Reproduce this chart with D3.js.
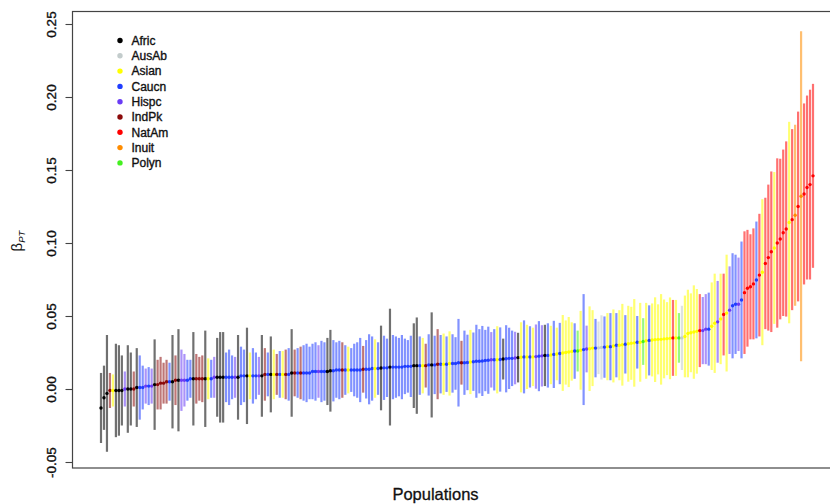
<!DOCTYPE html>
<html><head><meta charset="utf-8">
<script src="https://cdn.jsdelivr.net/npm/d3@7"></script>
<style>
html,body{margin:0;padding:0;background:#fff;}
svg{display:block;font-family:"Liberation Sans",Arial,Helvetica,sans-serif;}
</style></head>
<body>
<svg id="chart" width="830" height="504"></svg>
<script>
// Legend categories and colours
const categories = ["Afric","AusAb","Asian","Caucn","Hispc","IndPk","NatAm","Inuit","Polyn"];
const categoryCodes = ["A","U","S","C","H","I","N","T","P"];
const categoryColors = ["#000000","#c3cccc","#ffff00","#1f3dff","#6a3cf5","#8b0a0a","#ff0000","#ff8c00","#44f020"];
const yTicks = [-0.05, 0.00, 0.05, 0.10, 0.15, 0.20, 0.25];

// Population group (code), estimated beta_PT and half-width of its interval
const group = [
"A","A","A","I","S","A","A","A","H","A",
"A","I","A","C","C","H","C","H","A","I",
"I","I","I","C","A","I","A","H","H","C",
"C","A","I","I","I","A","S","C","H","A",
"A","A","C","C","C","H","A","C","C","A",
"S","C","C","H","A","I","C","A","S","I",
"C","S","I","C","A","I","C","I","C","C",
"C","C","C","H","C","C","A","A","C","C",
"C","I","C","S","C","C","C","C","I","C",
"C","C","S","C","A","C","C","A","C","C",
"C","C","C","C","C","A","A","C","S","I",
"C","A","C","I","C","S","C","S","C","C",
"C","I","C","C","S","C","C","C","C","C",
"C","H","C","S","C","A","C","C","C","H",
"A","S","C","S","C","S","H","C","H","A",
"C","S","C","S","C","S","S","S","S","C",
"P","S","C","H","S","S","C","U","U","C",
"S","C","S","C","S","S","C","S","S","S",
"C","S","P","S","C","S","S","S","S","S",
"S","S","N","S","P","U","S","S","S","S",
"S","N","H","H","C","S","S","H","S","N",
"S","H","C","C","H","C","N","N","N","N",
"C","N","S","N","N","N","S","N","N","N",
"N","S","N","T","N","T","N","N","N","N"];

const beta = [
-0.013,-0.006,-0.003,-0.001,-0.001,-0.001,-0.001,-0.001,0.000,0.000,
0.000,0.000,0.001,0.001,0.001,0.002,0.002,0.002,0.003,0.003,
0.004,0.004,0.005,0.005,0.005,0.006,0.006,0.006,0.006,0.006,
0.007,0.007,0.007,0.007,0.007,0.007,0.007,0.007,0.008,0.008,
0.008,0.008,0.008,0.008,0.008,0.008,0.008,0.009,0.009,0.009,
0.009,0.009,0.009,0.009,0.009,0.010,0.010,0.010,0.010,0.010,
0.010,0.010,0.010,0.010,0.011,0.011,0.011,0.011,0.011,0.011,
0.011,0.012,0.012,0.012,0.012,0.012,0.012,0.0125,0.0125,0.013,
0.013,0.013,0.013,0.013,0.013,0.013,0.013,0.013,0.0135,0.0135,
0.0135,0.014,0.014,0.014,0.0144,0.0145,0.0145,0.015,0.015,0.015,
0.015,0.015,0.0155,0.0155,0.0155,0.016,0.016,0.016,0.016,0.016,
0.0165,0.0165,0.0165,0.017,0.017,0.017,0.017,0.0175,0.0175,0.0175,
0.018,0.018,0.018,0.0182,0.0185,0.0187,0.019,0.019,0.0192,0.0195,
0.0197,0.020,0.020,0.020,0.0202,0.0205,0.0207,0.021,0.021,0.0212,
0.0215,0.0217,0.022,0.022,0.022,0.022,0.0222,0.0225,0.0227,0.023,
0.023,0.0233,0.0237,0.024,0.0243,0.0247,0.025,0.0253,0.0257,0.026,
0.026,0.0265,0.027,0.0274,0.0276,0.028,0.028,0.0282,0.0285,0.0287,
0.029,0.029,0.0295,0.030,0.030,0.0303,0.0306,0.031,0.0313,0.0316,
0.032,0.032,0.0325,0.033,0.0333,0.0336,0.0338,0.034,0.034,0.0343,
0.0345,0.0347,0.035,0.035,0.035,0.035,0.036,0.038,0.0385,0.039,
0.0395,0.040,0.040,0.041,0.041,0.043,0.045,0.046,0.048,0.051,
0.052,0.054,0.057,0.058,0.058,0.061,0.066,0.069,0.070,0.072,
0.0747,0.078,0.080,0.086,0.090,0.094,0.0966,0.100,0.1027,0.107,
0.1096,0.114,0.116,0.119,0.125,0.132,0.1336,0.138,0.140,0.146];

const err = [
0.024,0.022,0.040,0.012,0.011,0.032,0.031,0.024,0.012,0.030,
0.025,0.012,0.027,0.022,0.015,0.012,0.013,0.012,0.031,0.017,
0.018,0.014,0.015,0.013,0.032,0.017,0.035,0.021,0.018,0.014,
0.013,0.032,0.017,0.015,0.016,0.033,0.014,0.013,0.014,0.027,
0.031,0.031,0.017,0.019,0.015,0.014,0.029,0.020,0.018,0.033,
0.016,0.019,0.016,0.013,0.028,0.018,0.015,0.026,0.017,0.014,
0.016,0.016,0.017,0.018,0.030,0.016,0.017,0.018,0.019,0.020,
0.018,0.019,0.020,0.018,0.021,0.020,0.023,0.028,0.021,0.019,
0.020,0.019,0.017,0.016,0.015,0.018,0.019,0.022,0.016,0.020,
0.024,0.022,0.020,0.018,0.029,0.022,0.020,0.040,0.022,0.021,
0.020,0.022,0.019,0.018,0.021,0.029,0.033,0.020,0.019,0.015,
0.021,0.036,0.020,0.024,0.020,0.021,0.019,0.022,0.020,0.018,
0.030,0.015,0.022,0.019,0.022,0.020,0.025,0.022,0.024,0.021,
0.023,0.019,0.021,0.023,0.022,0.014,0.023,0.021,0.019,0.018,
0.017,0.024,0.025,0.022,0.021,0.020,0.022,0.024,0.021,0.021,
0.022,0.020,0.023,0.018,0.021,0.026,0.022,0.024,0.020,0.019,
0.014,0.027,0.038,0.016,0.029,0.026,0.020,0.018,0.022,0.021,
0.023,0.023,0.025,0.022,0.024,0.028,0.020,0.026,0.025,0.030,
0.018,0.027,0.016,0.026,0.024,0.025,0.029,0.024,0.031,0.027,
0.025,0.028,0.026,0.026,0.017,0.022,0.028,0.030,0.027,0.032,
0.029,0.025,0.023,0.024,0.025,0.030,0.034,0.028,0.031,0.028,
0.040,0.030,0.036,0.034,0.032,0.040,0.042,0.040,0.036,0.038,
0.040,0.042,0.050,0.045,0.050,0.055,0.052,0.058,0.055,0.057,
0.060,0.069,0.062,0.062,0.065,0.113,0.062,0.063,0.065,0.063];

const color = d3.scaleOrdinal().domain(categoryCodes).range(categoryColors);
const data = beta.map((b, i) => ({i, g: group[i], b, e: err[i]}));

const svg = d3.select("#chart");
const x = d3.scalePoint().domain(d3.range(beta.length)).range([101, 813]);
const y = d3.scaleLinear().domain([-0.05, 0.25]).range([462, 24]);

// error bars
svg.append("g").selectAll("line").data(data).join("line")
  .attr("x1", d => x(d.i)).attr("x2", d => x(d.i))
  .attr("y1", d => y(d.b - d.e)).attr("y2", d => y(d.b + d.e))
  .attr("stroke", d => color(d.g))
  .attr("stroke-opacity", 0.56)
  .attr("stroke-width", 2.2);

// points
svg.append("g").selectAll("circle").data(data).join("circle")
  .attr("cx", d => x(d.i)).attr("cy", d => y(d.b)).attr("r", 1.7)
  .attr("fill", d => color(d.g));

// box
svg.append("rect").attr("x", 72.5).attr("y", 11.5).attr("width", 800).attr("height", 456.5)
  .attr("fill", "none").attr("stroke", "#444").attr("stroke-width", 1.2);

// y axis
const ax = svg.append("g").attr("transform", "translate(72.5,0)")
  .call(d3.axisLeft(y).tickValues(yTicks).tickSize(7)
        .tickFormat(d => d3.format(".2f")(d).replace("\u2212", "-")));
ax.select(".domain").remove();
ax.selectAll(".tick line").attr("stroke", "#444").attr("stroke-width", 1.1);
ax.selectAll(".tick text")
  .attr("font-size", 13.5).attr("fill", "#111")
  .attr("stroke", "#111").attr("stroke-width", 0.35)
  .attr("font-family", "Liberation Sans, Arial, sans-serif")
  .attr("text-anchor", "middle").attr("dy", null).attr("x", null)
  .attr("transform", "translate(-16.5,0) rotate(-90)");

// y label
const yl = svg.append("text").attr("transform", "translate(22,241) rotate(-90)")
  .attr("text-anchor", "middle").attr("font-size", 15).attr("fill", "#111");
yl.append("tspan").text("β");
yl.append("tspan").attr("font-size", 9.5).attr("font-style", "italic").attr("dy", 3).text("PT");

// x label
svg.append("text").attr("x", 435.5).attr("y", 500).attr("text-anchor", "middle")
  .attr("font-size", 16.5).attr("fill", "#111")
  .attr("stroke", "#111").attr("stroke-width", 0.3).text("Populations");

// legend
const leg = svg.append("g").selectAll("g").data(categories).join("g")
  .attr("transform", (d, i) => `translate(120,${40.5 + i * 15.3})`);
leg.append("circle").attr("r", 2.7).attr("fill", (d, i) => categoryColors[i]);
leg.append("text").attr("x", 11.5).attr("dy", "0.35em").attr("font-size", 12)
  .attr("fill", "#111").attr("stroke", "#111").attr("stroke-width", 0.35).text(d => d);
</script>
</body></html>
